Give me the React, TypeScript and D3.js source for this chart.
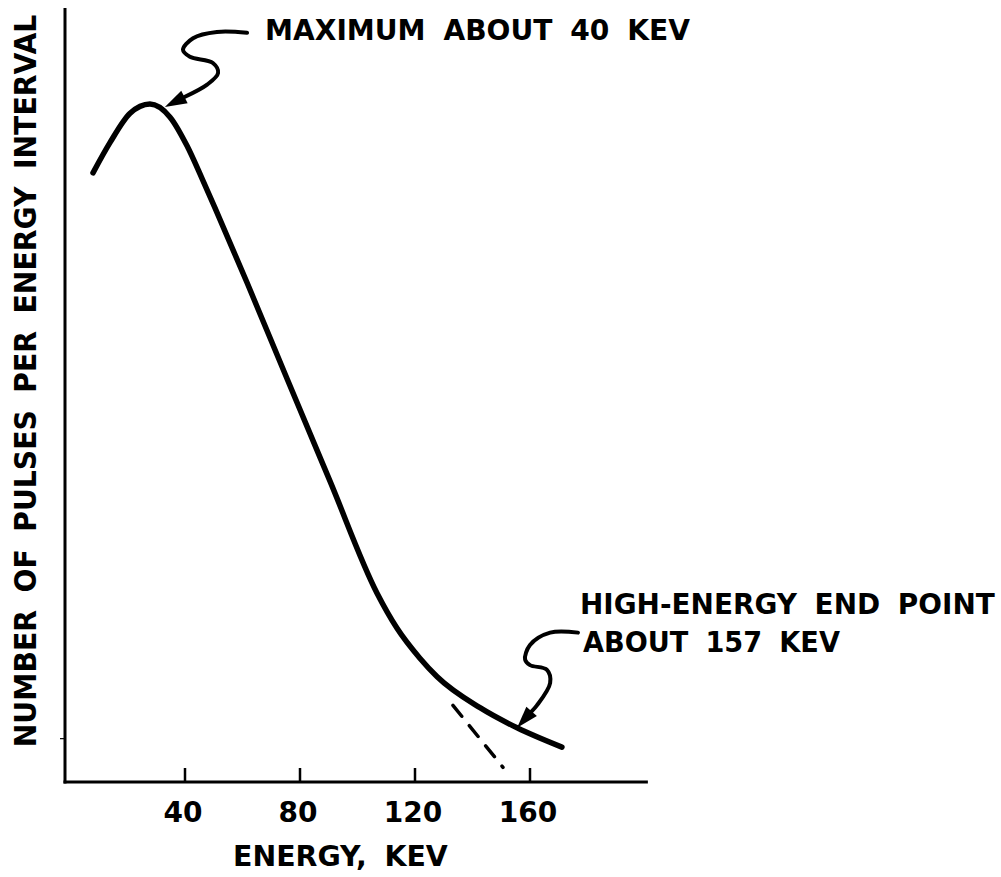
import * as d3 from "d3";
import { useEffect, useRef } from "react";

// energy (keV) vs relative number of pulses
const energy = [8, 13.9, 20.9, 27.8, 34.8, 40.7, 45.9, 51.1, 61.6, 75.5, 90.4, 106.8, 113.7, 121.7, 127.7, 142.6, 155.5, 171.1];
const pulses = [78.7, 82.6, 86.4, 87.6, 85.9, 82.2, 78.0, 73.6, 64.5, 52.1, 38.9, 24.4, 19.9, 16.0, 13.6, 9.6, 7.0, 4.5];

// dashed extrapolation of the straight part
const extrapE = [133.2, 150.6];
const extrapV = [9.9, 1.9];

const xTicks = [40, 80, 120, 160];

// hand-drawn annotation arrows (data units), last point is the tip
const maxArrowE = [61.6, 51.1, 42.8, 39.3, 41.7, 49.7, 51.5, 47.7, 39.3, 33.0];
const maxArrowV = [96.8, 96.9, 96.1, 94.6, 93.7, 92.9, 91.6, 90.1, 88.4, 87.2];
const endArrowE = [176.7, 167.0, 160.0, 158.3, 160.0, 165.9, 167.0, 162.4, 155.5];
const endArrowV = [19.3, 19.3, 17.7, 15.8, 15.1, 14.5, 12.8, 9.9, 7.0];

const FONT = "'DejaVu Sans', sans-serif";

export default function App() {
  const svgRef = useRef<SVGSVGElement | null>(null);

  useEffect(() => {
    const width = 1001;
    const height = 877;
    const svg = d3.select(svgRef.current);
    svg.selectAll("*").remove();
    svg.attr("width", width).attr("height", height);

    const x = d3.scaleLinear().domain([0, 200]).range([70, 645]);
    const y = d3.scaleLinear().domain([0, 100]).range([782, 8]);

    const x0 = 65;
    const x1 = x(201);

    // axes
    svg.append("line").attr("x1", x0).attr("x2", x0).attr("y1", y(100)).attr("y2", y(0) + 1.5)
      .attr("stroke", "#000").attr("stroke-width", 3);
    svg.append("line").attr("x1", x0 - 1.5).attr("x2", x1).attr("y1", y(0)).attr("y2", y(0))
      .attr("stroke", "#000").attr("stroke-width", 3);

    svg.selectAll(".tick").data(xTicks).enter().append("line")
      .attr("x1", (d) => x(d)).attr("x2", (d) => x(d))
      .attr("y1", y(0)).attr("y2", y(0) - 14)
      .attr("stroke", "#000").attr("stroke-width", 2.5);

    svg.append("line").attr("x1", x0 - 5).attr("x2", x0).attr("y1", y(5.6)).attr("y2", y(5.6))
      .attr("stroke", "#000").attr("stroke-width", 1.2);

    svg.selectAll(".tick-label").data(xTicks).enter().append("text")
      .attr("x", (d) => x(d) - 2).attr("y", 822)
      .attr("text-anchor", "middle").attr("font-family", FONT).attr("font-weight", "bold")
      .attr("font-size", 28).text((d) => d);

    // text squeezed to a given width with a horizontal scale
    const fitText = (t: string, tx: number, ty: number, len: number, size: number, rotate = 0) => {
      const el = svg.append("text")
        .attr("font-family", FONT).attr("font-weight", "bold").attr("font-size", size)
        .attr("word-spacing", 8)
        .text(t);
      const natural = (el.node() as SVGTextElement).getComputedTextLength();
      const s = len / natural;
      if (rotate) {
        el.attr("text-anchor", "middle").attr("transform", `translate(${tx},${ty}) rotate(${rotate}) scale(${s},1)`);
      } else {
        el.attr("transform", `translate(${tx},${ty}) scale(${s},1)`);
      }
      return el;
    };

    fitText("ENERGY, KEV", 233, 866, 215, 29);
    fitText("NUMBER OF PULSES PER ENERGY INTERVAL", 36, 381, 733, 30, -90);

    // main curve
    const pts = energy.map((e, i) => [e, pulses[i]] as [number, number]);
    const line = d3.line<[number, number]>()
      .x((d) => x(d[0])).y((d) => y(d[1]))
      .curve(d3.curveMonotoneX);
    svg.append("path").datum(pts).attr("d", line)
      .attr("fill", "none").attr("stroke", "#000").attr("stroke-width", 5.5)
      .attr("stroke-linecap", "round");

    const ext = extrapE.map((e, i) => [e, extrapV[i]] as [number, number]);
    svg.append("path").datum(ext).attr("d", d3.line<[number, number]>().x((d) => x(d[0])).y((d) => y(d[1])))
      .attr("fill", "none").attr("stroke", "#000").attr("stroke-width", 3.5)
      .attr("stroke-linecap", "round")
      .attr("stroke-dasharray", "14,12");

    // annotation arrows
    const drawArrow = (es: number[], vs: number[]) => {
      const p = es.map((e, i) => [x(e), y(vs[i])] as [number, number]);
      const tip = p[p.length - 1];
      const prev = p[p.length - 2];
      const ang = Math.atan2(tip[1] - prev[1], tip[0] - prev[0]);
      const len = 22;
      const hw = 7;
      const bx = tip[0] - len * Math.cos(ang);
      const by = tip[1] - len * Math.sin(ang);
      const body = p.slice(0, -1).concat([[bx, by]]);
      svg.append("path").datum(body)
        .attr("d", d3.line<[number, number]>().curve(d3.curveCatmullRom.alpha(0.5)))
        .attr("fill", "none").attr("stroke", "#000").attr("stroke-width", 4)
        .attr("stroke-linecap", "round");
      const head = [
        tip,
        [bx + hw * Math.sin(ang), by - hw * Math.cos(ang)],
        [bx - hw * Math.sin(ang), by + hw * Math.cos(ang)],
      ];
      svg.append("polygon").attr("points", head.map((q) => q.join(",")).join(" ")).attr("fill", "#000");
    };
    drawArrow(maxArrowE, maxArrowV);
    drawArrow(endArrowE, endArrowV);

    fitText("MAXIMUM ABOUT 40 KEV", 265, 40, 425, 28);
    fitText("HIGH-ENERGY END POINT", 580, 614, 415, 28);
    fitText("ABOUT 157 KEV", 583, 652, 257, 28);
  }, []);

  return (
    <svg ref={svgRef} style={{ position: "absolute", left: 0, top: 0, background: "#fff" }}></svg>
  );
}
